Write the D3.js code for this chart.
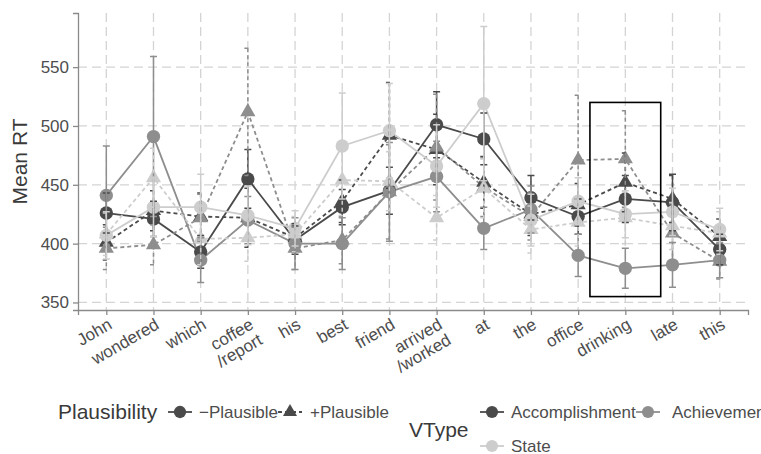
<!DOCTYPE html>
<html>
<head>
<meta charset="utf-8">
<script src="https://cdn.jsdelivr.net/npm/d3@7"></script>
<style>
  body { margin: 0; background: #fff; }
  text { font-family: "Liberation Sans", Arial, sans-serif; }
</style>
</head>
<body>
<div id="chart"></div>
<script>
// words of the sentence (x categories)
const words = ["John", "wondered", "which", "coffee\n/report", "his", "best", "friend",
  "arrived\n/worked", "at", "the", "office", "drinking", "late", "this"];

const yTicks = [350, 400, 450, 500, 550];

// mean RT and error (half width) per word
const accMinus = [426, 421, 393, 455, 403, 431, 445, 501, 489, 439, 423, 438, 435, 395];
const accMinusErr = [17, 15, 14, 25, 12, 15, 20, 28, 22, 19, 15, 20, 24, 13];
const accPlus = [401, 428, 423, 422, 405, 436, 492, 480, 452, 425, 433, 452, 438, 406];
const accPlusErr = [15, 17, 20, 25, 12, 18, 45, 30, 22, 18, 18, 25, 20, 15];
const achMinus = [441, 491, 386, 420, 400, 400, 444, 457, 413, 429, 390, 379, 382, 386];
const achMinusErr = [42, 68, 19, 20, 22, 22, 42, 30, 18, 20, 18, 17, 19, 15];
const achPlus = [396, 399, 422, 512, 396, 403, 444, 482, 448, 423, 471, 472, 409, 385];
const achPlusErr = [18, 17, 20, 54, 18, 20, 40, 45, 25, 20, 55, 41, 25, 15];
const stMinus = [407, 431, 431, 424, 413, 483, 496, 466, 519, 420, 436, 425, 427, 412];
const stMinusErr = [20, 25, 28, 25, 15, 45, 40, 35, 65.5, 22, 20, 20, 20, 18];
const stPlus = [408, 456, 404, 405, 408, 454, 453, 422, 447, 412, 418, 422, 415, 409];
const stPlusErr = [18, 25, 22, 20, 15, 30, 25, 19, 25, 20, 20, 22, 20, 18];

const vtypes = ["Accomplishment", "Achievement", "State"];
const plausibility = ["\u2212Plausible", "+Plausible"];

// highlighted region
const boxWord = "drinking";
const boxRange = [355, 520];

const series = [
  { vtype: "Accomplishment", plaus: "\u2212Plausible", mean: accMinus, err: accMinusErr },
  { vtype: "Accomplishment", plaus: "+Plausible", mean: accPlus, err: accPlusErr },
  { vtype: "Achievement", plaus: "\u2212Plausible", mean: achMinus, err: achMinusErr },
  { vtype: "Achievement", plaus: "+Plausible", mean: achPlus, err: achPlusErr },
  { vtype: "State", plaus: "\u2212Plausible", mean: stMinus, err: stMinusErr },
  { vtype: "State", plaus: "+Plausible", mean: stPlus, err: stPlusErr }
];

const W = 761, H = 454;
const M = { left: 78, right: 13, top: 13, bottom: 144 };

const svg = d3.select("#chart").append("svg")
  .attr("width", W).attr("height", H);

const x = d3.scalePoint().domain(words)
  .range([M.left, W - M.right]).padding(0.6);
const y = d3.scaleLinear().domain([343.6, 596])
  .range([H - M.bottom, M.top]);

const color = d3.scaleOrdinal().domain(vtypes).range(["#4a4a4a", "#8e8e8e", "#cdcdcd"]);
const dash = d3.scaleOrdinal().domain(plausibility).range(["none", "4,3"]);
const shape = d3.scaleOrdinal().domain(plausibility).range([d3.symbolCircle, d3.symbolTriangle]);
const shapeSize = d3.scaleOrdinal().domain(plausibility).range([140, 100]);

// grid
const grid = svg.append("g").attr("stroke", "#d4d4d4").attr("stroke-width", 1.3)
  .attr("stroke-dasharray", "9,5");
grid.selectAll(".gy").data(yTicks).join("line")
  .attr("x1", M.left).attr("x2", W - M.right)
  .attr("y1", d => y(d)).attr("y2", d => y(d));
grid.selectAll(".gx").data(words).join("line")
  .attr("x1", d => x(d)).attr("x2", d => x(d))
  .attr("y1", M.top).attr("y2", H - M.bottom);

// axes
const yAxis = svg.append("g").attr("transform", `translate(${M.left},0)`)
  .call(d3.axisLeft(y).tickValues(yTicks).tickSize(5).tickPadding(4));
const xAxis = svg.append("g").attr("transform", `translate(0,${H - M.bottom})`)
  .call(d3.axisBottom(x).tickSize(5).tickFormat(""));
[yAxis, xAxis].forEach(a => {
  a.select(".domain").attr("stroke", "#8a8a8a").attr("stroke-width", 1.3);
  a.selectAll(".tick line").attr("stroke", "#8a8a8a").attr("stroke-width", 1.3);
});
yAxis.selectAll(".tick text").attr("font-size", 17).attr("fill", "#4d4d4d");

// rotated word labels, may have two lines
const xl = svg.append("g").selectAll("text").data(words).join("text")
  .attr("transform", d => `translate(${x(d)},${H - M.bottom + 6}) rotate(-30)`)
  .attr("text-anchor", "end").attr("font-size", 17).attr("fill", "#4d4d4d");
xl.selectAll("tspan").data(d => d.split("\n")).join("tspan")
  .attr("x", 0).attr("dy", (d, i) => i === 0 ? "0.8em" : "1.05em")
  .text(d => d);

// y title
svg.append("text")
  .attr("transform", `translate(27,${(M.top + H - M.bottom) / 2}) rotate(-90)`)
  .attr("text-anchor", "middle").attr("font-size", 21).attr("fill", "#3a3a3a")
  .text("Mean RT");

// lines
const line = d3.line().x((d, i) => x(words[i])).y(d => y(d));
const plot = svg.append("g");
plot.selectAll(".ln").data(series).join("path")
  .attr("fill", "none")
  .attr("stroke", d => color(d.vtype))
  .attr("stroke-width", 1.8)
  .attr("stroke-dasharray", d => dash(d.plaus))
  .attr("d", d => line(d.mean));

// points
series.forEach(s => {
  plot.append("g").selectAll("path").data(s.mean).join("path")
    .attr("transform", (d, i) => `translate(${x(words[i])},${y(d)})`)
    .attr("d", d3.symbol().type(shape(s.plaus)).size(shapeSize(s.plaus)))
    .attr("fill", color(s.vtype));
});

// error bars
series.forEach(s => {
  const g = plot.append("g").attr("stroke", color(s.vtype)).attr("stroke-width", 1.5)
    .attr("fill", "none").attr("stroke-dasharray", dash(s.plaus));
  const bars = s.mean.map((m, i) => ({ w: words[i], lo: m - s.err[i], hi: m + s.err[i] }));
  g.selectAll("path").data(bars).join("path")
    .attr("d", d => {
      const cx = x(d.w);
      return `M${cx - 3.5},${y(d.hi)}H${cx + 3.5}M${cx},${y(d.hi)}V${y(d.lo)}M${cx - 3.5},${y(d.lo)}H${cx + 3.5}`;
    });
});

// highlight box
svg.append("rect")
  .attr("x", x(boxWord) - x.step() * 0.75)
  .attr("width", x.step() * 1.5)
  .attr("y", y(boxRange[1]))
  .attr("height", y(boxRange[0]) - y(boxRange[1]))
  .attr("fill", "none").attr("stroke", "#000").attr("stroke-width", 1.6);

// legends
const keyColor = "#4a4a4a";
const leg = svg.append("g");
leg.append("text").attr("x", 58).attr("y", 419).attr("font-size", 21)
  .attr("fill", "#3a3a3a").text("Plausibility");

const plausKeys = [
  { label: plausibility[0], kx: 180, tx: 199, ky: 412 },
  { label: plausibility[1], kx: 290, tx: 310, ky: 412 }
];
plausKeys.forEach(k => {
  leg.append("line").attr("x1", k.kx - 12).attr("x2", k.kx + 12)
    .attr("y1", k.ky).attr("y2", k.ky)
    .attr("stroke", keyColor).attr("stroke-width", 1.8)
    .attr("stroke-dasharray", dash(k.label));
  leg.append("path").attr("transform", `translate(${k.kx},${k.ky})`)
    .attr("d", d3.symbol().type(shape(k.label)).size(shapeSize(k.label) * 0.85))
    .attr("fill", keyColor);
  leg.append("text").attr("x", k.tx).attr("y", k.ky + 6).attr("font-size", 17)
    .attr("fill", "#4d4d4d").text(k.label);
});

leg.append("text").attr("x", 409).attr("y", 437).attr("font-size", 21)
  .attr("fill", "#3a3a3a").text("VType");

const vKeys = [
  { label: vtypes[0], kx: 492, tx: 511, ky: 412 },
  { label: vtypes[1], kx: 648, tx: 672, ky: 412 },
  { label: vtypes[2], kx: 492, tx: 511, ky: 446 }
];
vKeys.forEach(k => {
  leg.append("line").attr("x1", k.kx - 12).attr("x2", k.kx + 12)
    .attr("y1", k.ky).attr("y2", k.ky)
    .attr("stroke", color(k.label)).attr("stroke-width", 1.8);
  leg.append("path").attr("transform", `translate(${k.kx},${k.ky})`)
    .attr("d", d3.symbol().type(d3.symbolCircle).size(115))
    .attr("fill", color(k.label));
  leg.append("text").attr("x", k.tx).attr("y", k.ky + 6).attr("font-size", 17)
    .attr("fill", "#4d4d4d").text(k.label);
});
</script>
</body>
</html>
